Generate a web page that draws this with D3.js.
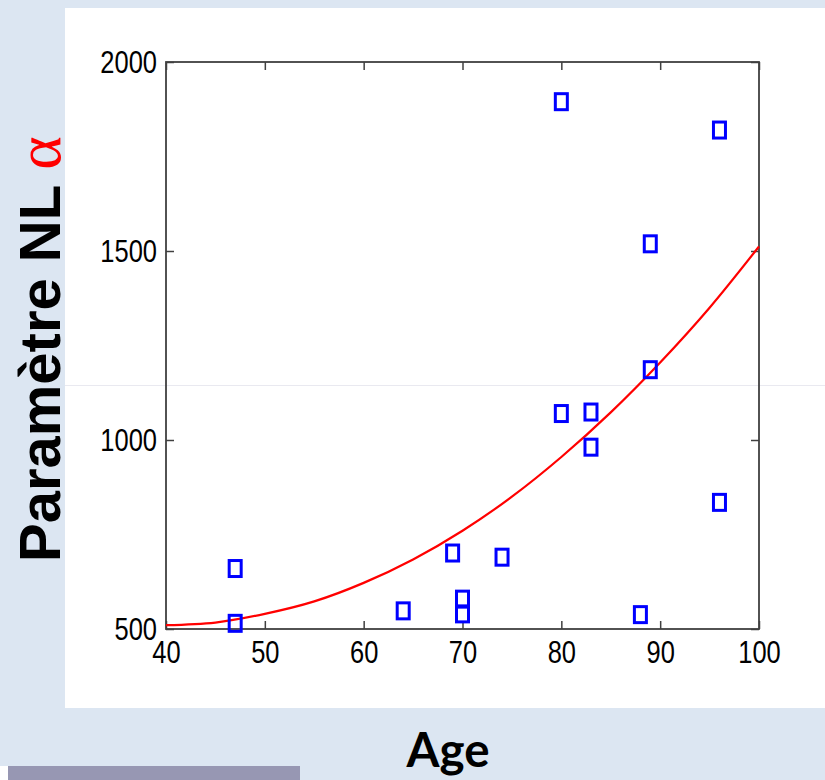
<!DOCTYPE html>
<html>
<head>
<meta charset="utf-8">
<script src="https://cdn.jsdelivr.net/npm/d3@7"></script>
<style>
  html, body { margin: 0; padding: 0; background: #dce6f2; }
  svg { display: block; }
</style>
</head>
<body>
<svg id="chart" width="825" height="780"></svg>
<script>
// ---- data ----
const ages   = [47, 47, 64, 69, 70, 70, 74, 80, 80, 83, 83, 88, 89, 89, 96, 96];
const alphas = [660, 515, 548, 701, 579, 540, 690, 1895, 1070, 1074, 981, 538, 1519, 1186, 1820, 835];

const fitAges   = [40, 45, 50, 55, 60, 65, 70, 75, 80, 85, 90, 95, 100];
const fitAlphas = [510, 517, 540, 573, 622, 684, 760, 850, 955, 1073, 1205, 1350, 1512];

const xTicks = [40, 50, 60, 70, 80, 90, 100];
const yTicks = [500, 1000, 1500, 2000];

const xTitle = "Age";
const yTitle = "Paramètre NL ";
const yTitleSymbol = "α";

// ---- drawing ----
const svg = d3.select("#chart");

// background panels
svg.append("rect").attr("x", 0).attr("y", 0).attr("width", 825).attr("height", 780).attr("fill", "#dce6f2");
svg.append("rect").attr("x", 65).attr("y", 8).attr("width", 760).attr("height", 700).attr("fill", "#ffffff");
svg.append("rect").attr("x", 0).attr("y", 766).attr("width", 8).attr("height", 14).attr("fill", "#ffffff");
svg.append("rect").attr("x", 8).attr("y", 766).attr("width", 292).attr("height", 14).attr("fill", "#9797b3");
svg.append("line").attr("x1", 65).attr("x2", 825).attr("y1", 385.5).attr("y2", 385.5)
  .attr("stroke", "#e9e9f0").attr("stroke-width", 1);

const x = d3.scaleLinear().domain([40, 100]).range([166, 759]);
const y = d3.scaleLinear().domain([500, 2000]).range([629, 62]);

const axisColor = "#404040";

function styleAxis(g) {
  g.select(".domain").remove();
  g.selectAll(".tick line").attr("stroke", axisColor).attr("stroke-width", 1.5);
}

// bottom axis
const gx = svg.append("g").attr("transform", "translate(0,629)")
  .call(d3.axisBottom(x).tickValues(xTicks).tickSizeInner(-8).tickSizeOuter(0).tickFormat(d3.format("d")));
styleAxis(gx);
gx.selectAll(".tick text")
  .attr("y", null).attr("dy", null)
  .attr("transform", "translate(0,34) scale(1,1.2)")
  .attr("font-family", "'Liberation Sans', Arial, sans-serif")
  .attr("font-size", 25.5).attr("fill", "#000");

// left axis
const gy = svg.append("g").attr("transform", "translate(166,0)")
  .call(d3.axisLeft(y).tickValues(yTicks).tickSizeInner(-8).tickSizeOuter(0).tickFormat(d3.format("d")));
styleAxis(gy);
gy.selectAll(".tick text")
  .attr("x", null).attr("dy", null)
  .attr("text-anchor", "end")
  .attr("transform", "translate(-9,10.5) scale(1,1.2)")
  .attr("font-family", "'Liberation Sans', Arial, sans-serif")
  .attr("font-size", 25.5).attr("fill", "#000");

// top & right axes (ticks only)
const gt = svg.append("g").attr("transform", "translate(0,62)")
  .call(d3.axisTop(x).tickValues(xTicks).tickSizeInner(-8).tickSizeOuter(0).tickFormat(""));
styleAxis(gt);
const gr = svg.append("g").attr("transform", "translate(759,0)")
  .call(d3.axisRight(y).tickValues(yTicks).tickSizeInner(-8).tickSizeOuter(0).tickFormat(""));
styleAxis(gr);

// box
svg.append("rect")
  .attr("x", x(40)).attr("y", y(2000))
  .attr("width", x(100) - x(40)).attr("height", y(500) - y(2000))
  .attr("fill", "none").attr("stroke", axisColor).attr("stroke-width", 1.8);

// fitted curve
const fitData = fitAges.map((a, i) => [a, fitAlphas[i]]);
svg.append("path")
  .datum(fitData)
  .attr("d", d3.line().x(d => x(d[0])).y(d => y(d[1])).curve(d3.curveMonotoneX))
  .attr("fill", "none").attr("stroke", "#ff0000").attr("stroke-width", 2.2);

// markers
const pts = ages.map((a, i) => [a, alphas[i]]);
const mw = 12, mh = 16;
svg.append("g").selectAll("rect").data(pts).join("rect")
  .attr("x", d => x(d[0]) - mw / 2)
  .attr("y", d => y(d[1]) - mh / 2)
  .attr("width", mw).attr("height", mh)
  .attr("fill", "none").attr("stroke", "#0000ff").attr("stroke-width", 3);

// y title
const yt = svg.append("text")
  .attr("transform", "translate(60,562) rotate(-90)")
  .attr("text-anchor", "start")
  .attr("font-family", "'Liberation Sans', Arial, sans-serif")
  .attr("font-weight", "bold")
  .attr("font-size", 58)
  .attr("fill", "#000");
yt.append("tspan").text(yTitle);
yt.append("tspan").text(yTitleSymbol)
  .attr("fill", "#ff0000")
  .attr("font-weight", "normal")
  .attr("font-family", "'Liberation Serif', 'Times New Roman', serif")
  .attr("font-size", 64);

// x title
svg.append("text")
  .attr("x", 448).attr("y", 767)
  .attr("text-anchor", "middle")
  .attr("font-family", "Lato, 'Open Sans', sans-serif")
  .attr("font-weight", "bold")
  .attr("font-size", 47)
  .attr("textLength", 83).attr("lengthAdjust", "spacingAndGlyphs")
  .attr("fill", "#000")
  .text(xTitle);
</script>
</body>
</html>
